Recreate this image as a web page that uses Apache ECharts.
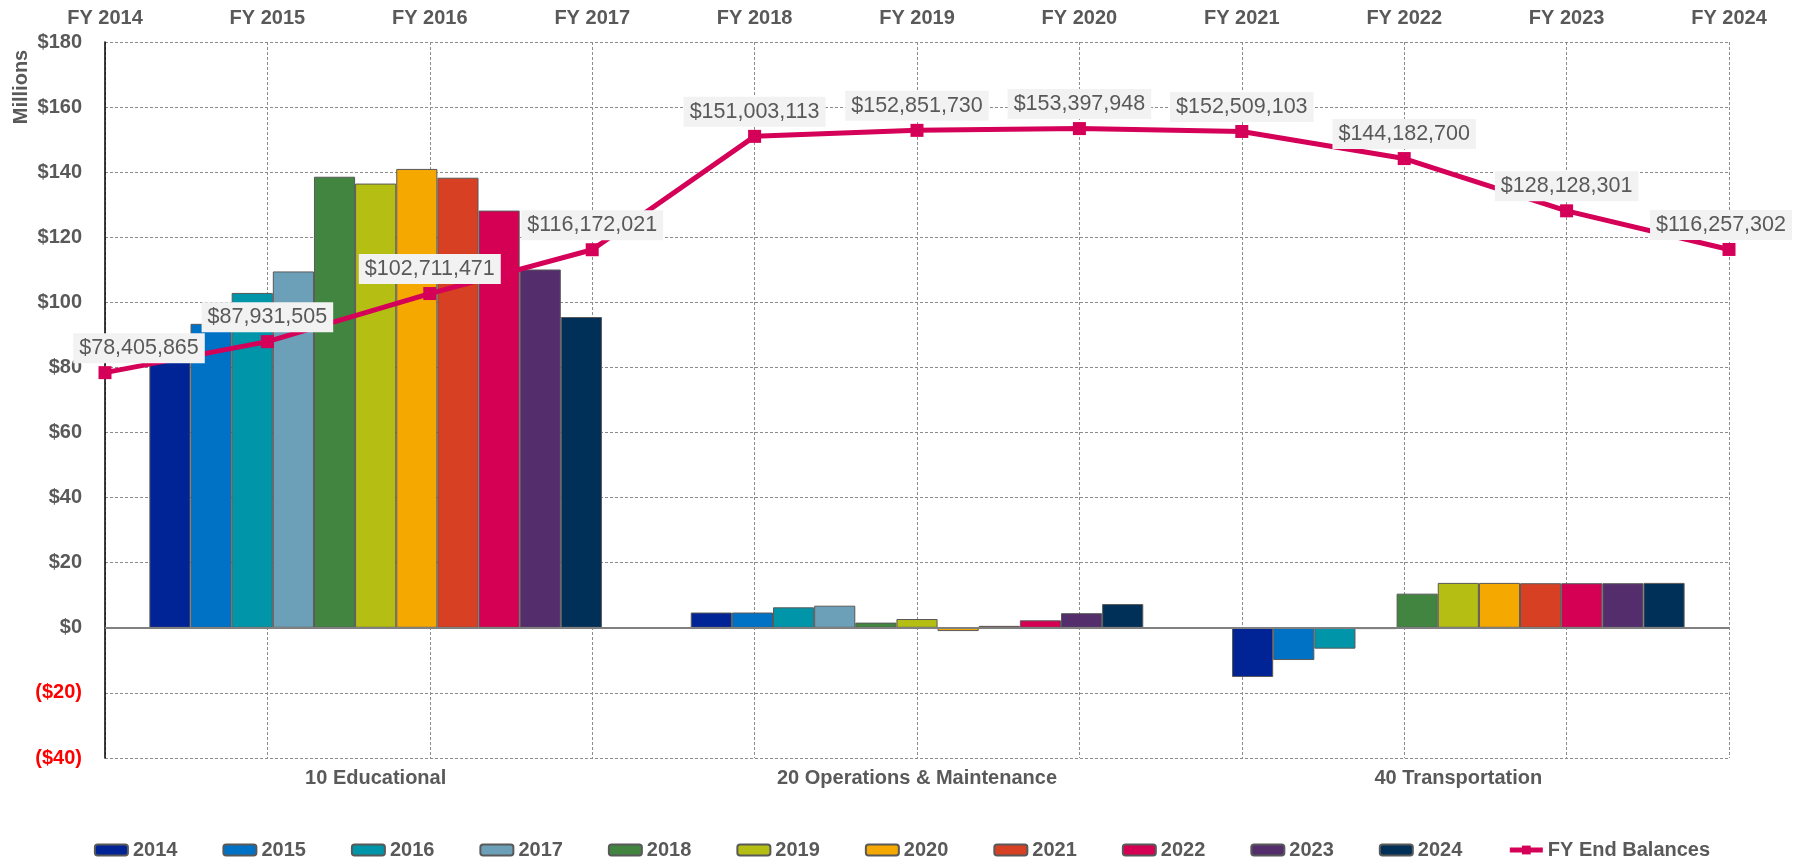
<!DOCTYPE html>
<html>
<head>
<meta charset="utf-8">
<title>FY End Balances</title>
<script src="https://cdn.jsdelivr.net/npm/echarts@6/dist/echarts.min.js"></script>
<style>
  html, body { margin: 0; padding: 0; background: #fff; }
  #chart { width: 1804px; height: 859px; }
</style>
</head>
<body>
<div id="chart"></div>
<script>
// 底部分类（基金）
const funds = ['10 Educational', '20 Operations & Maintenance', '40 Transportation'];
// 顶部年份刻度
const fyLabels = ['FY 2014', 'FY 2015', 'FY 2016', 'FY 2017', 'FY 2018', 'FY 2019',
  'FY 2020', 'FY 2021', 'FY 2022', 'FY 2023', 'FY 2024'];
const years = ['2014', '2015', '2016', '2017', '2018', '2019', '2020', '2021', '2022', '2023', '2024'];

// 各年份的基金余额（百万）：[Educational, O&M, Transportation]
const y2014 = [83.0, 4.7, -15.1];
const y2015 = [93.4, 4.7, -9.9];
const y2016 = [102.9, 6.3, -6.4];
const y2017 = [109.5, 6.8, -0.4];
const y2018 = [138.6, 1.6, 10.5];
const y2019 = [136.5, 2.7, 13.8];
const y2020 = [141.0, -1.0, 13.8];
const y2021 = [138.3, 0.6, 13.7];
const y2022 = [128.2, 2.3, 13.7];
const y2023 = [110.1, 4.5, 13.7];
const y2024 = [95.5, 7.3, 13.8];
const yearValues = [y2014, y2015, y2016, y2017, y2018, y2019, y2020, y2021, y2022, y2023, y2024];

// 年末余额（美元）
const endBalances = [78405865, 87931505, 102711471, 116172021, 151003113, 152851730,
  153397948, 152509103, 144182700, 128128301, 116257302];

// y轴刻度
const yMin = -40;
const yMax = 180;
const yStep = 20;

const colors = ['#002395', '#0072C6', '#0095A8', '#6CA0B8', '#418540', '#B5BE13',
  '#F5A800', '#D84023', '#D50053', '#542E6C', '#003057'];
const lineColor = '#D50057';
const textGray = '#595959';
const font = 'Liberation Sans, Arial, sans-serif';
const gridLine = { show: true, lineStyle: { color: '#8c8c8c', type: [3, 2], width: 1 } };

const chart = echarts.init(document.getElementById('chart'));

const barSeries = years.map((yr, i) => ({
  name: yr,
  type: 'bar',
  xAxisIndex: 0,
  data: yearValues[i],
  barGap: '0%',
  barCategoryGap: '16.4%',
  itemStyle: { color: colors[i], borderColor: '#595959', borderWidth: 1 },
  // 零线
  markLine: i === 0 ? {
    silent: true,
    symbol: 'none',
    label: { show: false },
    lineStyle: { color: '#808080', type: 'solid', width: 2 },
    data: [{ yAxis: 0 }]
  } : undefined
}));

// 首尾标签挪一下位置
const labelShift = { 0: [34, 0], 10: [-8, 0] };
const lineData = endBalances.map((v, i) => {
  const item = { value: v / 1e6, raw: v };
  if (labelShift[i]) item.label = { offset: labelShift[i] };
  return item;
});

const option = {
  animation: false,
  textStyle: { fontFamily: font },
  grid: { left: 105, right: 75, top: 42, bottom: 101, containLabel: false },
  legend: {
    top: 835,
    left: 'center',
    itemWidth: 33,
    itemHeight: 11,
    itemGap: 45,
    textStyle: { color: textGray, fontSize: 20, fontWeight: 'bold', fontFamily: font },
    data: years.concat([{ name: 'FY End Balances', lineStyle: { width: 5 } }])
  },
  graphic: [{
    type: 'text',
    x: 21,
    y: 87,
    rotation: Math.PI / 2,
    style: {
      text: 'Millions',
      fill: textGray,
      font: 'bold 20px ' + font,
      align: 'center',
      verticalAlign: 'middle'
    }
  }],
  xAxis: [
    {
      type: 'category',
      position: 'bottom',
      data: funds,
      axisLine: { show: false, onZero: false },
      axisTick: { show: false },
      splitLine: { show: false },
      axisLabel: { color: textGray, fontSize: 20, fontWeight: 'bold', margin: 10, interval: 0 }
    },
    {
      type: 'category',
      position: 'top',
      data: fyLabels,
      boundaryGap: false,
      axisLine: { show: false, onZero: false },
      axisTick: { show: false },
      splitLine: gridLine,
      axisLabel: { color: textGray, fontSize: 20, fontWeight: 'bold', margin: 14, interval: 0 }
    }
  ],
  yAxis: {
    type: 'value',
    min: yMin,
    max: yMax,
    interval: yStep,
    axisLine: { show: true, lineStyle: { color: '#000', width: 1.5 } },
    axisTick: { show: false },
    splitLine: gridLine,
    axisLabel: {
      fontSize: 20,
      fontWeight: 'bold',
      margin: 23,
      color: (v) => (Number(v) < 0 ? '#FF0000' : textGray),
      formatter: (v) => (v < 0 ? '($' + (-v) + ')' : '$' + v)
    }
  },
  series: barSeries.concat([{
    name: 'FY End Balances',
    type: 'line',
    xAxisIndex: 1,
    data: lineData,
    symbol: 'rect',
    symbolSize: 13,
    z: 5,
    lineStyle: { color: lineColor, width: 5 },
    itemStyle: { color: lineColor },
    label: {
      show: true,
      position: 'top',
      distance: 3,
      color: textGray,
      fontSize: 21.5,
      backgroundColor: '#F2F2F2',
      padding: [4, 6],
      formatter: (p) => '$' + p.data.raw.toLocaleString('en-US')
    }
  }])
};

chart.setOption(option);
window.addEventListener('resize', () => chart.resize());
</script>
</body>
</html>
